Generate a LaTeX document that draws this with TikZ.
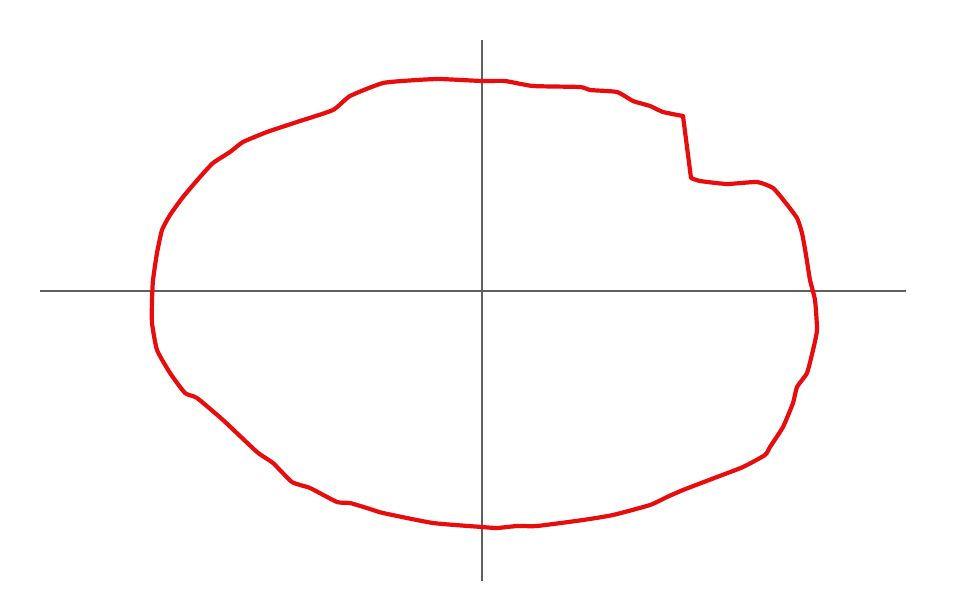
\documentclass[tikz,border=0pt]{standalone}
\definecolor{curvered}{RGB}{232,12,12}
\definecolor{axisgray}{RGB}{95,95,95}
\begin{document}
\begin{tikzpicture}[x=1pt,y=-1pt,
  axisline/.style={draw=axisgray,line width=1.3pt},
  blob/.style={draw=curvered,line width=4.2pt,line join=round,line cap=round}]
\useasboundingbox (0,0) rectangle (975,608);
\draw[axisline] (40,291) -- (906,291);
\draw[axisline] (482,40) -- (482,581);
\draw[blob] (683,116) -- plot[smooth,tension=0.3] coordinates {(691,178) (700,181) (727,184) (757,182) (773,188)
  (785,202) (797,218) (802,233) (806,255) (810,280) (815,300)
  (817,330) (813,350) (807,373) (797,387) (793,403) (783,427)
  (770,447) (765,455) (743,467) (717,477) (683,490) (667,497)
  (650,505) (613,515) (583,520) (537,526) (517,526) (497,528)
  (482,527) (433,523) (383,513) (370,509) (350,503) (337,502)
  (310,488) (292,482) (273,463) (257,452) (223,420) (197,398)
  (185,393) (170,373) (157,350) (152,323) (152,300) (153,280)
  (157,253) (162,230) (170,215) (183,197) (200,177) (213,163)
  (230,152) (243,142) (267,132) (297,122) (333,110) (350,96)
  (383,83) (417,80) (440,79) (482,81) (505,81) (533,86)
  (580,87) (590,90) (617,92) (633,101) (650,106) (663,112) (683,116)};
\end{tikzpicture}
\end{document}
